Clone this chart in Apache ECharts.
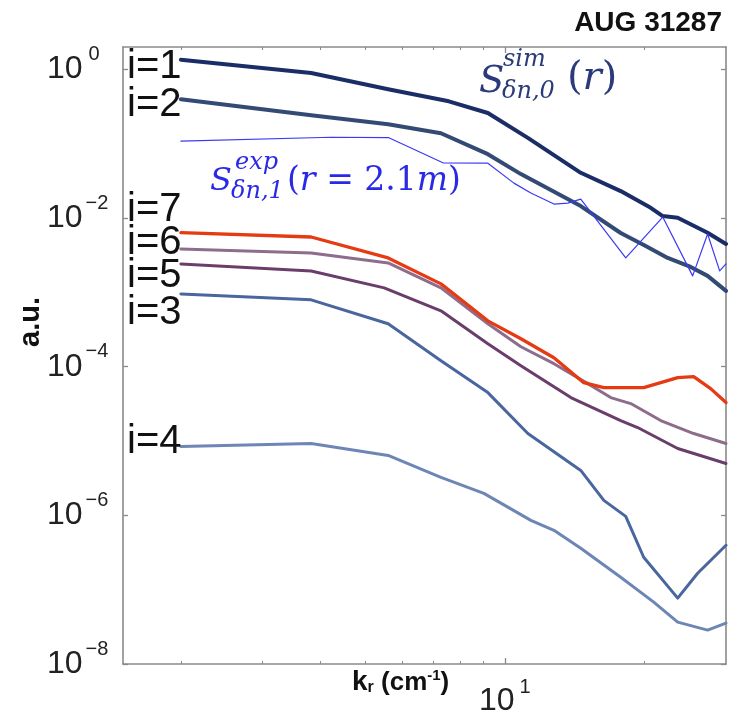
<!DOCTYPE html>
<html><head><meta charset="utf-8">
<script src="https://cdn.jsdelivr.net/npm/echarts@6/dist/echarts.min.js"></script>
<style>html,body{margin:0;padding:0;background:#fff}#c{width:740px;height:716px}</style>
</head><body><div id="c"></div>
<script>
// ---- data (k_r in cm^-1, spectrum in a.u.) ----
const kI1 = [2.0, 3.82, 5.60, 7.57, 9.19, 11.21, 14.58, 17.78, 20.64, 21.91, 23.60, 27.38, 30];
const vI1 = [1.35, 0.892, 0.539, 0.372, 0.259, 0.1197, 0.0406, 0.02304, 0.01374, 0.01064, 0.01009, 0.00635, 0.00448];

const kI2 = [2.0, 3.82, 5.60, 7.28, 9.19, 10.83, 14.58, 17.78, 20.13, 22.46, 25.17, 27.38, 30];
const vI2 = [0.396, 0.2414, 0.1827, 0.1384, 0.0723, 0.0390, 0.01449, 0.00629, 0.00421, 0.002904, 0.0022, 0.001666, 0.001047];

const kExp = [2.0, 4.22, 5.62, 7.35, 9.19, 10.46, 11.38, 12.76, 13.67, 14.58, 18.23, 21.91, 25.42, 27.38, 29.07, 30];
const vExp = [0.108, 0.1222, 0.1204, 0.0553, 0.0547, 0.0295, 0.02166, 0.01541, 0.0159, 0.0180, 0.002904, 0.01031, 0.001666, 0.0061, 0.001943, 0.002413];

const kI7 = [2.0, 3.82, 5.60, 7.28, 9.19, 10.83, 12.76, 14.80, 16.35, 19.93, 23.60, 25.55, 27.80, 30];
const vI7 = [0.00635, 0.00556, 0.002904, 0.0013, 0.000414, 0.0002375, 0.000132, 6.10e-5, 5.22e-5, 5.22e-5, 7.12e-5, 7.34e-5, 5.07e-5, 3.29e-5];

const kI6 = [2.0, 3.82, 5.60, 7.28, 9.19, 10.83, 12.76, 15.10, 16.92, 18.69, 21.69, 25.55, 30];
const vI6 = [0.003837, 0.00339, 0.002489, 0.001149, 0.000378, 0.0001856, 0.0001097, 5.91e-5, 3.84e-5, 3.19e-5, 1.884e-5, 1.261e-5, 9.26e-6];

const kI5 = [2.0, 3.82, 5.49, 7.28, 9.19, 10.83, 13.88, 17.78, 19.34, 23.60, 30];
const vI5 = [0.002413, 0.001943, 0.001149, 0.000564, 0.0002036, 0.0001031, 3.84e-5, 1.884e-5, 1.518e-5, 7.93e-6, 4.99e-6];

const kI3 = [2.0, 3.82, 5.60, 7.28, 9.19, 11.21, 14.58, 16.35, 18.23, 19.93, 23.60, 26.06, 30];
const vI3 = [0.000954, 0.000793, 0.000378, 0.0001204, 4.48e-5, 1.261e-5, 4.02e-6, 1.589e-6, 9.69e-7, 2.73e-7, 7.69e-8, 1.665e-7, 3.96e-7];

const kI4 = [2.0, 3.82, 5.60, 7.28, 9.01, 11.38, 12.76, 14.58, 17.78, 20.95, 23.60, 27.38, 30];
const vI4 = [8.44e-6, 9.26e-6, 6.39e-6, 3.24e-6, 1.974e-6, 8.57e-7, 6.29e-7, 3.61e-7, 1.472e-7, 6.79e-8, 3.66e-8, 2.86e-8, 3.55e-8];

// ---- ticks ----
const xMinorTicks = [2, 3, 4, 5, 6, 7, 8, 9, 20];
const xMajorTicks = [10];
const xTickExps = ['1'];
const yTickValues = [1e-8, 1e-6, 1e-4, 1e-2, 1];
const yTickExps = ['−8', '−6', '−4', '−2', '0'];
const curveLabels = ['i=1', 'i=2', 'i=7', 'i=6', 'i=5', 'i=3', 'i=4'];

const pair = (ks, vs) => ks.map((k, j) => [k, vs[j]]);
const gray = '#8a8a8a';
const supRich = {
  b: {fontFamily: 'Liberation Sans', fontSize: 32, lineHeight: 50, color: '#222'},
  s: {fontFamily: 'Liberation Sans', fontSize: 20, lineHeight: 20, verticalAlign: 'top', color: '#222', padding: [0, 0, 0, 3]},
  z: {fontFamily: 'Liberation Sans', fontSize: 20, lineHeight: 20, verticalAlign: 'top', color: '#222', padding: [0, 0, 0, 6]}
};
const supRichX = {
  b: {fontFamily: 'Liberation Sans', fontSize: 32, lineHeight: 48, color: '#222'},
  s: {fontFamily: 'Liberation Sans', fontSize: 20, lineHeight: 20, verticalAlign: 'top', color: '#222', padding: [0, 0, 0, 5]}
};
function yFmt(v) {
  for (let j = 0; j < yTickValues.length; j++) {
    if (Math.abs(Math.log10(v) - Math.log10(yTickValues[j])) < 1e-6) {
      const e = yTickExps[j];
      return '{b|10}{' + (e.length === 1 ? 'z' : 's') + '|' + e + '}';
    }
  }
  return '';
}
function xFmt(v) {
  for (let j = 0; j < xMajorTicks.length; j++) {
    if (Math.abs(v - xMajorTicks[j]) < 1e-6) return '{b|10}{s|' + xTickExps[j] + '}';
  }
  return '';
}
const xBase = {type: 'log', logBase: 10, min: 1.5, max: 30, splitLine: {show: false}, minorTick: {show: false}};
const yBase = {type: 'log', logBase: 10, min: 1e-8, max: 2, splitLine: {show: false}, minorTick: {show: false}};

function line(name, data, color, width, z) {
  return {
    name, type: 'line', data, showSymbol: false, symbol: 'none', smooth: false, z,
    lineStyle: {color, width, cap: 'round', join: 'round'}, emphasis: {disabled: true}
  };
}

const ser = [
  line('i=4', pair(kI4, vI4), '#6d86b6', 3, 2),
  line('i=3', pair(kI3, vI3), '#4a669e', 3, 2),
  line('i=5', pair(kI5, vI5), '#6b3d6b', 3, 2),
  line('i=6', pair(kI6, vI6), '#8e6c8c', 3, 2),
  line('i=7', pair(kI7, vI7), '#e63a12', 3.3, 3),
  line('i=2', pair(kI2, vI2), '#334b74', 4, 3),
  line('i=1', pair(kI1, vI1), '#1b2d66', 4, 3),
  line('exp', pair(kExp, vExp), '#3a3af5', 1.2, 4)
];

const labelYs = [67, 105, 210, 243, 276, 313, 442];
const gfx = [];
curveLabels.forEach((t, j) => gfx.push({
  type: 'text', x: 127, y: labelYs[j], z: 10,
  style: {text: t, font: '40px "Liberation Sans"', fill: '#111', align: 'left', verticalAlign: 'middle', textAlign: 'left', textVerticalAlign: 'middle'}
}));
function txt(x, y, text, font, fill, extra) {
  return {type: 'text', x, y, z: 10, style: Object.assign({text, font, fill, align: 'left', verticalAlign: 'middle', textAlign: 'left', textVerticalAlign: 'middle'}, extra || {})};
}
const simC = '#2b3a7a', expC = '#2a2ae6';
gfx.push(txt(479, 82, 'S', 'italic 37px "DejaVu Serif"', simC));
gfx.push(txt(503, 60, 'sim', 'italic 24px "DejaVu Serif"', simC));
gfx.push(txt(502, 92, 'δn,0', 'italic 24px "DejaVu Serif"', simC));
gfx.push({type: 'text', x: 567, y: 79, z: 10, style: {
  text: '{u|(}{i|r}{u|)}', fill: simC, align: 'left', verticalAlign: 'middle', textAlign: 'left', textVerticalAlign: 'middle',
  rich: {u: {fontFamily: 'DejaVu Serif', fontSize: 40, fill: simC}, i: {fontFamily: 'DejaVu Serif', fontStyle: 'italic', fontSize: 40, fill: simC}}
}});
gfx.push(txt(210, 182, 'S', 'italic 32px "DejaVu Serif"', expC));
gfx.push(txt(235, 163, 'exp', 'italic 24px "DejaVu Serif"', expC));
gfx.push(txt(231, 192, 'δn,1', 'italic 24px "DejaVu Serif"', expC));
gfx.push({type: 'text', x: 287, y: 181, z: 10, style: {
  text: '{u|(}{i|r}{u| = 2.1}{i|m}{u|)}', fill: expC, align: 'left', verticalAlign: 'middle', textAlign: 'left', textVerticalAlign: 'middle',
  rich: {u: {fontFamily: 'DejaVu Serif', fontSize: 33, fill: expC}, i: {fontFamily: 'DejaVu Serif', fontStyle: 'italic', fontSize: 33, fill: expC}}
}});
gfx.push(txt(722, 23, 'AUG 31287', 'bold 28px "Liberation Sans"', '#111', {align: 'right', textAlign: 'right'}));
gfx.push({type: 'text', x: 31, y: 322, rotation: Math.PI / 2, z: 10, style: {text: 'a.u.', font: 'bold 29px "Liberation Sans"', fill: '#111', align: 'center', verticalAlign: 'middle', textAlign: 'center', textVerticalAlign: 'middle'}});
gfx.push({type: 'text', x: 352, y: 668, z: 10, style: {
  text: '{k|k}{r|r}{p| (cm}{s|-1}{p|)}', fill: '#111', align: 'left', verticalAlign: 'top', textAlign: 'left', textVerticalAlign: 'top',
  rich: {
    k: {fontFamily: 'Liberation Sans', fontWeight: 'bold', fontSize: 28, lineHeight: 28, verticalAlign: 'bottom', fill: '#111'},
    r: {fontFamily: 'Liberation Sans', fontWeight: 'bold', fontSize: 16, lineHeight: 12, verticalAlign: 'bottom', fill: '#111'},
    p: {fontFamily: 'Liberation Sans', fontWeight: 'bold', fontSize: 26, lineHeight: 26, verticalAlign: 'bottom', fill: '#111'},
    s: {fontFamily: 'Liberation Sans', fontWeight: 'bold', fontSize: 15, lineHeight: 15, verticalAlign: 'top', fill: '#111'}
  }
}});

const option = {
  animation: false,
  backgroundColor: '#ffffff',
  grid: {left: 123, top: 47, width: 603, height: 617, containLabel: false, outerBoundsMode: 'none'},
  xAxis: [
    Object.assign({}, xBase, {position: 'bottom',
      axisLine: {show: true, onZero: false, lineStyle: {color: gray, width: 1.6}},
      axisTick: {show: true, inside: true, length: 3, customValues: xMinorTicks, lineStyle: {color: gray, width: 1}},
      axisLabel: {show: true, customValues: xMajorTicks, formatter: xFmt, rich: supRichX, margin: 13}}),
    Object.assign({}, xBase, {position: 'bottom',
      axisLine: {show: false}, axisTick: {show: true, inside: true, length: 6, customValues: xMajorTicks, lineStyle: {color: gray, width: 1.3}},
      axisLabel: {show: false}}),
    Object.assign({}, xBase, {position: 'top',
      axisLine: {show: true, onZero: false, lineStyle: {color: gray, width: 1.6}},
      axisTick: {show: true, inside: true, length: 3, customValues: xMinorTicks, lineStyle: {color: gray, width: 1}},
      axisLabel: {show: false}}),
    Object.assign({}, xBase, {position: 'top',
      axisLine: {show: false}, axisTick: {show: true, inside: true, length: 6, customValues: xMajorTicks, lineStyle: {color: gray, width: 1.3}},
      axisLabel: {show: false}})
  ],
  yAxis: [
    Object.assign({}, yBase, {position: 'left',
      axisLine: {show: true, onZero: false, lineStyle: {color: gray, width: 1.6}},
      axisTick: {show: true, inside: true, length: 5, customValues: yTickValues, lineStyle: {color: gray, width: 1.3}},
      axisLabel: {show: true, customValues: yTickValues, formatter: yFmt, rich: supRich, margin: 76, align: 'left'}}),
    Object.assign({}, yBase, {position: 'right',
      axisLine: {show: true, onZero: false, lineStyle: {color: gray, width: 1.6}},
      axisTick: {show: true, inside: true, length: 5, customValues: yTickValues, lineStyle: {color: gray, width: 1.3}},
      axisLabel: {show: false}})
  ],
  series: ser,
  graphic: gfx
};
const chart = echarts.init(document.getElementById('c'));
chart.setOption(option);
</script></body></html>
